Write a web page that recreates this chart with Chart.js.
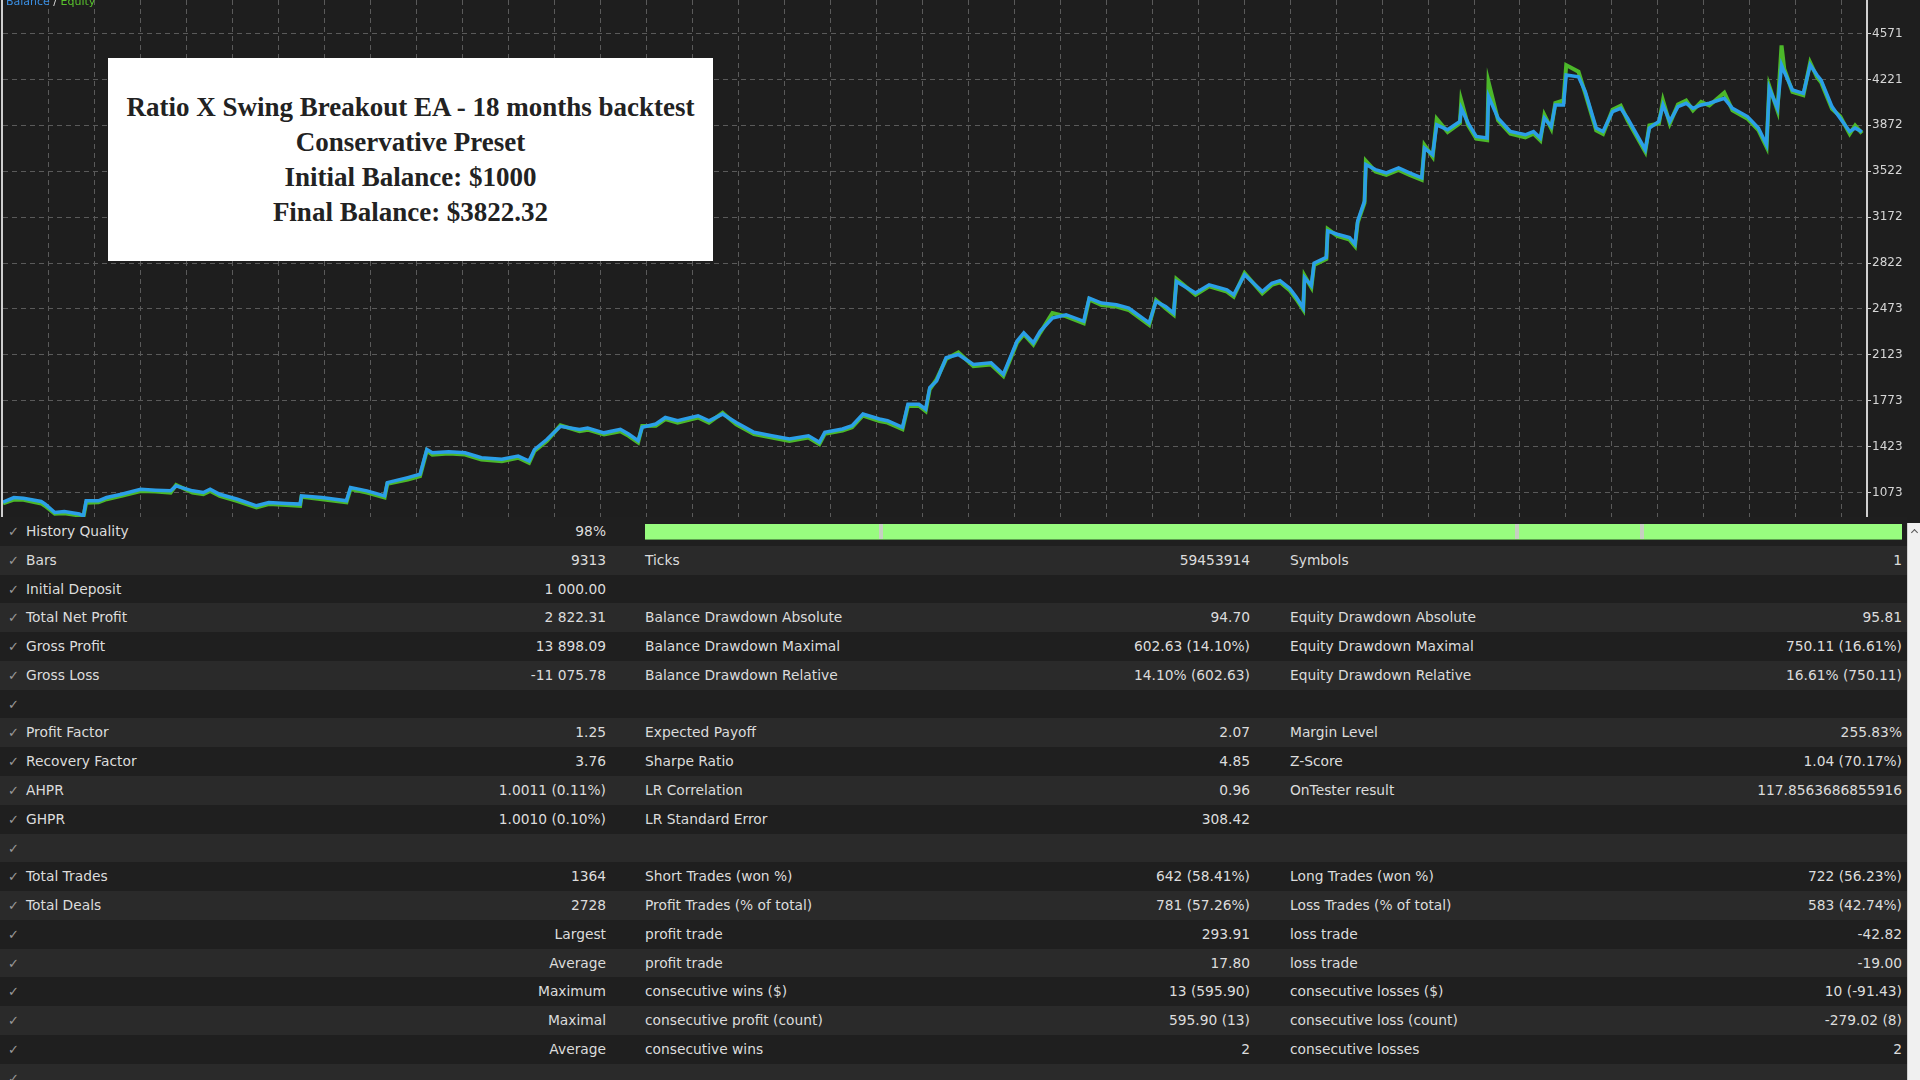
<!DOCTYPE html>
<html>
<head>
<meta charset="utf-8">
<title>Ratio X Swing Breakout EA - backtest</title>
<script src="https://cdn.jsdelivr.net/npm/chart.js@4.4.0/dist/chart.umd.min.js"></script>
<style>
    html, body { margin: 0; padding: 0; background: #1e1e1e; overflow: hidden; }
    body { width: 1920px; height: 1080px; position: relative; font-family: "DejaVu Sans", Tahoma, sans-serif; }
    #graph { position: absolute; left: 0; top: 0; width: 1920px; height: 518px; background: #1e1e1e; }
    #leftEdge { position: absolute; left: 1px; top: 0; width: 2px; height: 518px; background: #cfcfcf; }
    #legend { position: absolute; left: 6px; top: -5px; font-size: 11px; color: #ddd; white-space: nowrap; }
    #legend .bal { color: #3a8fe3; }
    #legend .eq { color: #58c22c; }
    #titleBox {
        position: absolute; left: 108px; top: 58px; width: 605px; height: 203px;
        background: #fff; display: flex; align-items: center; justify-content: center;
        text-align: center; color: #222; font-family: "Liberation Serif", "DejaVu Serif", serif;
        font-weight: bold; font-size: 27px; line-height: 35px;
    }
    #report { position: absolute; left: 0; top: 517px; width: 1907px; height: 563px; overflow: hidden; }
    .row { position: absolute; left: 0; width: 1907px; height: 29px; background: #1f1f1f; color: #dcdcdc; font-size: 13.8px; }
    .row.alt { background: #2a2a2a; }
    .row span { position: absolute; top: 0; line-height: 29px; white-space: nowrap; }
    .row .chk { left: 8px; color: #9a9a9a; font-size: 13px; }
    .quality { position: absolute; left: 645px; top: 7px; width: 1257px; height: 15px; background: #98fc7f; border-bottom: 1px solid #5e9e50; }
    .quality i { position: absolute; top: 0; width: 4px; height: 15px; background: #c6cfc2; }
    #scrollbar { position: absolute; left: 1907px; top: 523px; width: 13px; height: 557px; background: #f0f0f0; border-left: 1px solid #cfcfcf; }
    #scrollbar b { position: absolute; left: 4px; top: 7px; width: 4px; height: 4px; border-left: 1.5px solid #555; border-top: 1.5px solid #555; transform: rotate(45deg); }
</style>
</head>
<body>

<div id="graph"><canvas id="balanceChart"></canvas></div>
<div id="leftEdge"></div>
<div id="legend"><span class="bal">Balance</span> / <span class="eq">Equity</span></div>

<div id="titleBox">
    <div>Ratio X Swing Breakout EA - 18 months backtest<br>Conservative Preset<br>Initial Balance: $1000<br>Final Balance: $3822.32</div>
</div>

<div id="report"></div>
<div id="scrollbar"><b></b></div>

<script>
// --- Data ---
const tradeNo = [
    0, 8, 15, 28, 31, 38, 45, 56, 59, 61,
    70, 76, 87, 101, 112, 123, 127, 139, 147, 152,
    159, 172, 186, 195, 208, 218, 219, 234, 252, 255,
    267, 280, 282, 297, 306, 311, 315, 327, 339, 351,
    366, 378, 386, 390, 399, 409, 423, 429, 441, 453,
    459, 466, 469, 479, 486, 495, 510, 518, 528, 538,
    551, 564, 577, 591, 599, 603, 616, 623, 631, 643,
    649, 660, 664, 672, 677, 680, 685, 692, 701, 712,
    725, 734, 737, 744, 749, 756, 761, 770, 780, 793,
    797, 806, 817, 826, 841, 846, 853, 859, 861, 875,
    885, 898, 903, 911, 924, 931, 937, 944, 949, 954,
    955, 960, 962, 971, 972, 979, 988, 992, 994, 999,
    1000, 1007, 1015, 1024, 1032, 1041, 1043, 1049, 1052, 1060,
    1069, 1070, 1075, 1081, 1089, 1090, 1097, 1106, 1117, 1123,
    1128, 1131, 1136, 1139, 1145, 1147, 1156, 1161, 1169, 1174,
    1181, 1187, 1192, 1205, 1208, 1215, 1218, 1223, 1229, 1235,
    1240, 1246, 1252, 1263, 1269, 1280, 1288, 1294, 1296, 1302,
    1305, 1307, 1313, 1321, 1326, 1331, 1334, 1342, 1348, 1355,
    1359, 1364
];

const balance = [
    1000, 1035, 1030, 1005, 985, 921, 929, 909, 896, 1010,
    1010, 1035, 1060, 1098, 1091, 1086, 1124, 1086, 1073, 1098,
    1060, 1022, 972, 997, 990, 985, 1048, 1035, 1010, 1111,
    1086, 1048, 1149, 1187, 1212, 1401, 1376, 1384, 1376, 1338,
    1326, 1351, 1313, 1401, 1477, 1578, 1553, 1565, 1528, 1555,
    1519, 1468, 1570, 1595, 1645, 1620, 1658, 1620, 1671, 1607,
    1532, 1506, 1481, 1506, 1456, 1532, 1557, 1582, 1671, 1633,
    1620, 1570, 1746, 1746, 1708, 1873, 1923, 2100, 2125, 2049,
    2062, 1974, 2049, 2226, 2289, 2214, 2302, 2403, 2428, 2378,
    2555, 2517, 2504, 2479, 2365, 2529, 2491, 2441, 2681, 2593,
    2656, 2618, 2580, 2732, 2605, 2668, 2688, 2630, 2561, 2480,
    2710, 2650, 2820, 2865, 3067, 3041, 3016, 2966, 3142, 3294,
    3572, 3534, 3509, 3547, 3509, 3471, 3698, 3648, 3875, 3837,
    3900, 4001, 3888, 3787, 3774, 4090, 3925, 3824, 3799, 3824,
    3774, 3925, 3862, 4026, 4026, 4254, 4241, 4128, 3850, 3824,
    3976, 4001, 3925, 3686, 3850, 3900, 4026, 3900, 4014, 4039,
    4001, 4026, 4039, 4077, 4001, 3938, 3850, 3723, 4153, 4001,
    4330, 4279, 4140, 4115, 4330, 4254, 4216, 4014, 3925, 3824,
    3850, 3822
];

const equity = [
    990, 1020, 1018, 990, 970, 912, 915, 898, 885, 995,
    998, 1022, 1048, 1085, 1080, 1072, 1130, 1072, 1060, 1085,
    1048, 1008, 960, 985, 978, 972, 1040, 1022, 998, 1100,
    1072, 1036, 1140, 1172, 1198, 1392, 1362, 1370, 1362, 1325,
    1312, 1338, 1300, 1390, 1465, 1585, 1540, 1552, 1515, 1540,
    1505, 1455, 1580, 1582, 1632, 1605, 1645, 1606, 1680, 1592,
    1518, 1492, 1466, 1492, 1442, 1520, 1545, 1570, 1660, 1618,
    1606, 1556, 1732, 1735, 1694, 1860, 1935, 2090, 2140, 2035,
    2048, 1960, 2036, 2215, 2280, 2200, 2290, 2440, 2415, 2362,
    2545, 2502, 2490, 2464, 2350, 2540, 2478, 2428, 2700, 2580,
    2645, 2604, 2566, 2745, 2590, 2655, 2675, 2615, 2546, 2466,
    2725, 2636, 2808, 2852, 3080, 3028, 3000, 2950, 3130, 3280,
    3600, 3520, 3494, 3532, 3494, 3455, 3720, 3632, 3920, 3820,
    3888, 4060, 3872, 3770, 3757, 4200, 3910, 3808, 3780, 3808,
    3756, 3950, 3846, 4040, 4060, 4330, 4280, 4112, 3832, 3806,
    3990, 4020, 3910, 3670, 3870, 3885, 4060, 3884, 4030, 4060,
    3985, 4050, 4022, 4120, 3985, 3922, 3834, 3705, 4170, 3985,
    4480, 4300, 4125, 4100, 4350, 4238, 4200, 3996, 3940, 3806,
    3870, 3810
];

const yTicks = [1073, 1423, 1773, 2123, 2473, 2822, 3172, 3522, 3872, 4221, 4571];

// --- Report rows: [label, value, label, value, label, value] ---
const reportRows = [
    ['History Quality', '98%', '', '', '', ''],
    ['Bars', '9313', 'Ticks', '59453914', 'Symbols', '1'],
    ['Initial Deposit', '1 000.00', '', '', '', ''],
    ['Total Net Profit', '2 822.31', 'Balance Drawdown Absolute', '94.70', 'Equity Drawdown Absolute', '95.81'],
    ['Gross Profit', '13 898.09', 'Balance Drawdown Maximal', '602.63 (14.10%)', 'Equity Drawdown Maximal', '750.11 (16.61%)'],
    ['Gross Loss', '-11 075.78', 'Balance Drawdown Relative', '14.10% (602.63)', 'Equity Drawdown Relative', '16.61% (750.11)'],
    ['', '', '', '', '', ''],
    ['Profit Factor', '1.25', 'Expected Payoff', '2.07', 'Margin Level', '255.83%'],
    ['Recovery Factor', '3.76', 'Sharpe Ratio', '4.85', 'Z-Score', '1.04 (70.17%)'],
    ['AHPR', '1.0011 (0.11%)', 'LR Correlation', '0.96', 'OnTester result', '117.8563686855916'],
    ['GHPR', '1.0010 (0.10%)', 'LR Standard Error', '308.42', '', ''],
    ['', '', '', '', '', ''],
    ['Total Trades', '1364', 'Short Trades (won %)', '642 (58.41%)', 'Long Trades (won %)', '722 (56.23%)'],
    ['Total Deals', '2728', 'Profit Trades (% of total)', '781 (57.26%)', 'Loss Trades (% of total)', '583 (42.74%)'],
    ['Largest', '', 'profit trade', '293.91', 'loss trade', '-42.82'],
    ['Average', '', 'profit trade', '17.80', 'loss trade', '-19.00'],
    ['Maximum', '', 'consecutive wins ($)', '13 (595.90)', 'consecutive losses ($)', '10 (-91.43)'],
    ['Maximal', '', 'consecutive profit (count)', '595.90 (13)', 'consecutive loss (count)', '-279.02 (8)'],
    ['Average', '', 'consecutive wins', '2', 'consecutive losses', '2'],
    ['', '', '', '', '', '']
];
const rightLabelRows = [14, 15, 16, 17, 18];

// --- Balance / Equity graph ---
const xStep = 33.73;   // one dashed grid column of the tester graph, in trades

const toPoints = vals => vals.map((v, i) => ({ x: tradeNo[i], y: v }));

new Chart(document.getElementById('balanceChart'), {
    type: 'line',
    data: {
        datasets: [
            {
                label: 'Balance',
                data: toPoints(balance),
                borderColor: '#2b9fe8',
                borderWidth: 3.5,
                pointRadius: 0,
                tension: 0,
                order: 0
            },
            {
                label: 'Equity',
                data: toPoints(equity),
                borderColor: '#4cb82a',
                borderWidth: 4,
                pointRadius: 0,
                tension: 0,
                order: 1
            }
        ]
    },
    options: {
        animation: false,
        responsive: true,
        maintainAspectRatio: false,
        layout: { padding: { left: 3, right: 0, top: 0, bottom: 0 } },
        plugins: {
            legend: { display: false },
            tooltip: { enabled: false }
        },
        scales: {
            x: {
                type: 'linear',
                min: 0,
                max: 1367.7,
                ticks: { display: false },
                grid: { color: '#5a5a5a', lineWidth: 1, drawTicks: false },
                border: { display: false, dash: [5, 4] },
                afterBuildTicks: scale => {
                    const ticks = [];
                    for (let v = xStep; v < scale.max - 1; v += xStep) ticks.push({ value: v });
                    scale.ticks = ticks;
                },
                afterFit: scale => { scale.height = 0; }
            },
            y: {
                position: 'right',
                min: 879,
                max: 4826,
                ticks: {
                    color: '#d6d6d6',
                    padding: 1,
                    font: { size: 12, family: "'DejaVu Sans', Tahoma, sans-serif" },
                    callback: value => String(value)
                },
                grid: { color: '#5a5a5a', lineWidth: 1, tickColor: '#cfcfcf', tickLength: 4 },
                border: { display: true, color: '#d0d0d0', width: 2, dash: [5, 4] },
                afterBuildTicks: scale => {
                    scale.ticks = yTicks.map(v => ({ value: v }));
                },
                afterFit: scale => {
                    scale.width = 53;
                    scale.paddingTop = 0;
                    scale.paddingBottom = 0;
                }
            }
        }
    }
});

// --- Report table ---
const report = document.getElementById('report');
const rowHeight = 28.78;

const addText = (row, text, css) => {
    if (!text) return;
    const span = document.createElement('span');
    span.textContent = text;
    Object.assign(span.style, css);
    row.appendChild(span);
};

reportRows.forEach((r, i) => {
    const row = document.createElement('div');
    row.className = 'row' + (i % 2 ? ' alt' : '');
    row.style.top = (i * rowHeight) + 'px';

    const chk = document.createElement('span');
    chk.className = 'chk';
    chk.textContent = '\u2713';
    row.appendChild(chk);

    if (rightLabelRows.includes(i)) {
        addText(row, r[0], { right: '1301px' });
    } else {
        addText(row, r[0], { left: '26px' });
    }
    addText(row, r[1], { right: '1301px' });
    addText(row, r[2], { left: '645px' });
    addText(row, r[3], { right: '657px' });
    addText(row, r[4], { left: '1290px' });
    addText(row, r[5], { right: '5px' });

    if (i === 0) {
        const bar = document.createElement('div');
        bar.className = 'quality';
        [234, 870, 995].forEach(x => {
            const gap = document.createElement('i');
            gap.style.left = x + 'px';
            bar.appendChild(gap);
        });
        row.appendChild(bar);
    }
    report.appendChild(row);
});
</script>
</body>
</html>
